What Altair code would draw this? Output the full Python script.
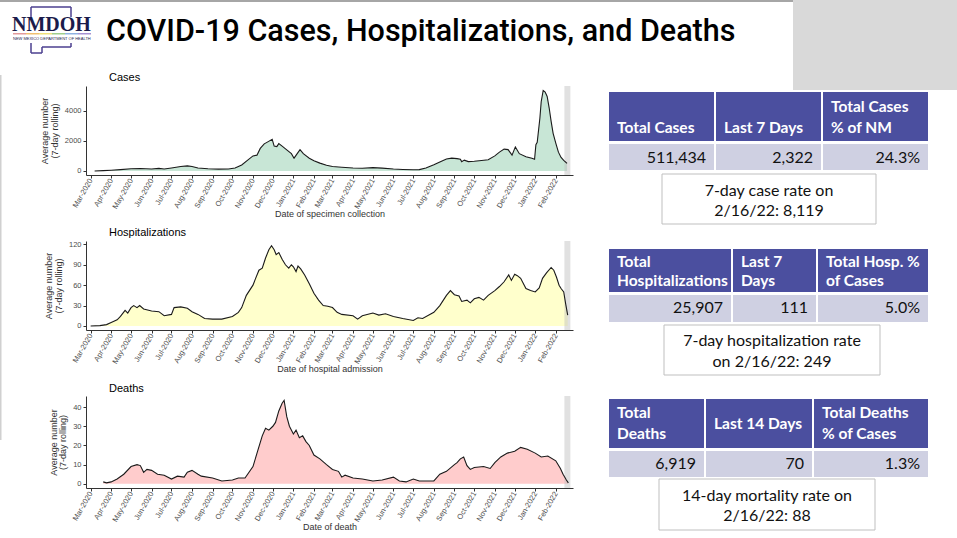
import altair as alt
import pandas as pd

# ---------------- data ----------------
case_dates = ["2020-03-07", "2020-03-20", "2020-04-01", "2020-04-15", "2020-05-01", "2020-05-15", "2020-06-01",
              "2020-06-12", "2020-06-20", "2020-07-01", "2020-07-15", "2020-07-25", "2020-08-01", "2020-08-10",
              "2020-08-25", "2020-09-10", "2020-09-25", "2020-10-05", "2020-10-15", "2020-10-25", "2020-11-01",
              "2020-11-07", "2020-11-12", "2020-11-18", "2020-11-24", "2020-11-30", "2020-12-03", "2020-12-07",
              "2020-12-10", "2020-12-15", "2020-12-22", "2020-12-29", "2021-01-02", "2021-01-06", "2021-01-11",
              "2021-01-16", "2021-01-25", "2021-02-01", "2021-02-10", "2021-02-20", "2021-03-01", "2021-03-15",
              "2021-04-01", "2021-04-15", "2021-05-01", "2021-05-15", "2021-06-01", "2021-06-15", "2021-07-01",
              "2021-07-10", "2021-07-20", "2021-08-01", "2021-08-10", "2021-08-20", "2021-08-28", "2021-09-05",
              "2021-09-10", "2021-09-12", "2021-09-16", "2021-09-22", "2021-10-01", "2021-10-12", "2021-10-22",
              "2021-11-01", "2021-11-08", "2021-11-15", "2021-11-21", "2021-11-27", "2021-12-02", "2021-12-08",
              "2021-12-18", "2021-12-27", "2021-12-31", "2022-01-02", "2022-01-04", "2022-01-08", "2022-01-10",
              "2022-01-13", "2022-01-16", "2022-01-19", "2022-01-22", "2022-01-25", "2022-01-28", "2022-02-01",
              "2022-02-05", "2022-02-09", "2022-02-13", "2022-02-18"]
case_values = [0, 20, 50, 90, 150, 160, 130,
               170, 130, 200, 300, 340, 300, 200,
               150, 120, 130, 200, 400, 750, 1000,
               1050, 1500, 1800, 1950, 2100, 1650, 1620,
               1820, 1650, 1400, 1150, 850, 1100, 1420,
               1150, 850, 680, 520, 380, 300, 250,
               200, 180, 220, 190, 130, 100, 80,
               90, 200, 420, 600, 800, 850, 820,
               780, 620, 720, 620, 650, 700, 750,
               1000, 1250, 1450, 1420, 1050, 1600, 1150,
               950, 850, 780, 1750, 1900, 3500, 4600,
               5350, 5250, 4950, 4200, 3300, 2500, 1850,
               1250, 900, 700, 500]

hosp_dates = ["2020-03-01", "2020-03-15", "2020-03-25", "2020-04-01", "2020-04-10", "2020-04-15", "2020-04-22",
              "2020-04-26", "2020-05-01", "2020-05-05", "2020-05-10", "2020-05-14", "2020-05-20", "2020-06-01",
              "2020-06-12", "2020-06-20", "2020-07-01", "2020-07-05", "2020-07-15", "2020-07-25", "2020-08-01",
              "2020-08-10", "2020-08-20", "2020-09-01", "2020-09-15", "2020-10-01", "2020-10-10", "2020-10-15",
              "2020-10-22", "2020-11-01", "2020-11-05", "2020-11-10", "2020-11-15", "2020-11-20", "2020-11-25",
              "2020-11-29", "2020-12-03", "2020-12-06", "2020-12-10", "2020-12-15", "2020-12-20", "2020-12-25",
              "2020-12-29", "2021-01-01", "2021-01-05", "2021-01-08", "2021-01-12", "2021-01-18", "2021-01-25",
              "2021-02-01", "2021-02-08", "2021-02-15", "2021-02-22", "2021-03-01", "2021-03-08", "2021-03-15",
              "2021-04-01", "2021-04-08", "2021-04-15", "2021-05-01", "2021-05-10", "2021-05-20", "2021-06-01",
              "2021-06-15", "2021-07-01", "2021-07-08", "2021-07-15", "2021-08-01", "2021-08-10", "2021-08-20",
              "2021-08-26", "2021-09-01", "2021-09-08", "2021-09-12", "2021-09-20", "2021-09-25", "2021-10-01",
              "2021-10-08", "2021-10-15", "2021-10-22", "2021-11-01", "2021-11-08", "2021-11-15", "2021-11-22",
              "2021-11-26", "2021-12-01", "2021-12-05", "2021-12-10", "2021-12-18", "2021-12-25", "2022-01-01",
              "2022-01-07", "2022-01-12", "2022-01-18", "2022-01-25", "2022-01-29", "2022-02-02", "2022-02-06",
              "2022-02-09", "2022-02-13", "2022-02-16", "2022-02-19"]
hosp_values = [0, 0.5, 2, 5, 9, 14, 23,
               19, 27, 30, 27, 30, 25, 22,
               21, 15, 17, 27, 28, 26, 21,
               17, 11, 10, 10, 14, 20, 27,
               45, 60, 70, 82, 85, 100, 112,
               118, 112, 105, 108, 98, 90, 85,
               90, 87, 80, 88, 84, 75, 62,
               48, 38, 30, 29, 27, 20, 17,
               15, 10, 15, 19, 16, 18, 14,
               11, 8, 12, 11, 20, 30, 45,
               52, 46, 44, 36, 38, 34, 40,
               42, 38, 45, 52, 58, 65, 75,
               67, 76, 74, 70, 55, 52, 50,
               56, 70, 78, 86, 82, 72, 60,
               55, 50, 32, 16]

death_dates = ["2020-03-20", "2020-03-25", "2020-04-01", "2020-04-10", "2020-04-20", "2020-05-01", "2020-05-10",
               "2020-05-15", "2020-05-20", "2020-05-25", "2020-06-01", "2020-06-10", "2020-06-20", "2020-07-01",
               "2020-07-10", "2020-07-20", "2020-07-25", "2020-08-01", "2020-08-10", "2020-08-15", "2020-09-01",
               "2020-09-15", "2020-10-01", "2020-10-10", "2020-10-20", "2020-11-01", "2020-11-08", "2020-11-15",
               "2020-11-20", "2020-11-25", "2020-12-01", "2020-12-05", "2020-12-10", "2020-12-15", "2020-12-18",
               "2020-12-22", "2020-12-26", "2021-01-01", "2021-01-05", "2021-01-10", "2021-01-15", "2021-01-20",
               "2021-01-25", "2021-02-01", "2021-02-10", "2021-02-20", "2021-03-01", "2021-03-10", "2021-03-15",
               "2021-03-20", "2021-04-01", "2021-04-15", "2021-05-01", "2021-05-15", "2021-06-01", "2021-06-10",
               "2021-06-20", "2021-07-01", "2021-07-10", "2021-08-01", "2021-08-10", "2021-08-20", "2021-09-01",
               "2021-09-05", "2021-09-10", "2021-09-15", "2021-09-20", "2021-09-25", "2021-10-01", "2021-10-15",
               "2021-10-25", "2021-11-01", "2021-11-10", "2021-11-20", "2021-12-01", "2021-12-10", "2021-12-20",
               "2022-01-01", "2022-01-10", "2022-01-20", "2022-02-01", "2022-02-08", "2022-02-12", "2022-02-17",
               "2022-02-20"]
death_values = [1, 0.5, 1, 2.5, 5, 9, 10,
                9.5, 6, 7.5, 7, 5, 4.5, 2.5,
                4, 3.5, 6, 7, 5, 4, 3,
                1.5, 2, 3, 3, 9, 17, 25,
                29, 28, 30, 32, 38, 42, 43.5,
                35, 30, 26, 28, 24, 25, 22,
                20, 15, 13, 10, 7.5, 6.5, 3.5,
                4.5, 3, 2.5, 1.5, 2, 3.5, 1.5,
                1, 2.5, 1.5, 1.5, 5, 6.5, 10,
                11, 13, 14, 9.5, 7.5, 8.5, 9,
                8, 11, 14, 16, 17, 19, 18,
                16, 14, 14.5, 12, 8, 5, 2,
                0.5]

panel_titles = ["Cases", "Hospitalizations", "Deaths"]
x_titles = ["Date of specimen collection", "Date of hospital admission", "Date of death"]
y_title = ["Average number", "(7-day rolling)"]
y_ticks = [[0, 2000, 4000], [0, 30, 60, 90, 120], [0, 10, 20, 30, 40]]
incomplete_start = "2022-02-14"
incomplete_end = "2022-02-23"

slide_title = "COVID-19 Cases, Hospitalizations, and Deaths"
logo_text = "NMDOH"
logo_sub = "NEW MEXICO DEPARTMENT OF HEALTH"

table_headers = [
    [["Total Cases"], ["Last 7 Days"], ["Total Cases", "% of NM"]],
    [["Total", "Hospitalizations"], ["Last 7", "Days"], ["Total Hosp. %", "of Cases"]],
    [["Total", "Deaths"], ["Last 14 Days"], ["Total Deaths", "% of Cases"]],
]
table_values = [["511,434", "2,322", "24.3%"],
                ["25,907", "111", "5.0%"],
                ["6,919", "70", "1.3%"]]
table_notes = [["7-day case rate on", "2/16/22: 8,119"],
               ["7-day hospitalization rate", "on 2/16/22: 249"],
               ["14-day mortality rate on", "2/16/22: 88"]]

# ---------------- layout / style ----------------
PX0, PX1 = 86, 573
ROWS = [(86, 89), (241, 89), (396, 92)]
GAP = 66
TITLE_BASE = [81, 236, 392]
Y_DOMAINS = [(-269, 5649), (-5.95, 124.95), (-2.18, 45.78)]
FILLS = ["#c8e6d6", "#ffffcc", "#ffcccc"]
HEAD_FILL = "#4b4f9f"
VAL_FILL = "#cfd0e2"
TABLE_FONT = "Lato"
AX_FONT = "Liberation Sans"

TABLE_LAYOUT = [
    dict(cols=[609, 715, 822, 928], head=(92, 141), val=(144, 170), box=(662, 876, 174, 224),
         head_base=[[133], [133], [112, 133]], val_base=163, note_base=[196, 216]),
    dict(cols=[609, 732, 817, 928], head=(249, 292), val=(295, 322), box=(664, 880, 325, 375),
         head_base=[[267, 286], [267, 286], [267, 286]], val_base=313, note_base=[346, 367]),
    dict(cols=[609, 705, 813, 928], head=(399, 448), val=(451, 477), box=(659, 875, 479, 530),
         head_base=[[418, 439], [429], [418, 439]], val_base=469, note_base=[501, 521]),
]


def px_scales(row):
    top, h = ROWS[row]
    sx = alt.Scale(domain=[PX0, PX1], nice=False, zero=False)
    sy = alt.Scale(domain=[top, top + h], nice=False, zero=False, reverse=True)
    return sx, sy


def rect_layer(df, row, **mark):
    sx, sy = px_scales(row)
    return alt.Chart(df).mark_rect(**mark).encode(
        x=alt.X("x:Q", scale=sx, axis=None), x2="x2:Q",
        y=alt.Y("y:Q", scale=sy, axis=None), y2="y2:Q",
        color=alt.Color("fill:N", scale=None),
    )


def text_layer(df, row, **mark):
    sx, sy = px_scales(row)
    return alt.Chart(df).mark_text(**mark).encode(
        x=alt.X("x:Q", scale=sx, axis=None),
        y=alt.Y("y:Q", scale=sy, axis=None),
        text="text:N",
    )


def rule_layer(df, row, **mark):
    sx, sy = px_scales(row)
    return alt.Chart(df).mark_rule(**mark).encode(
        x=alt.X("x:Q", scale=sx, axis=None), x2="x2:Q",
        y=alt.Y("y:Q", scale=sy, axis=None), y2="y2:Q",
    )


def table_layers(i):
    L = TABLE_LAYOUT[i]
    cols = L["cols"]
    cells, heads, vals = [], [], []
    for c in range(3):
        left = cols[c] + (1 if c > 0 else 0)
        right = cols[c + 1] - (1 if c < 2 else 0)
        cells.append(dict(x=left, x2=right, y=L["head"][0], y2=L["head"][1], fill=HEAD_FILL))
        cells.append(dict(x=left, x2=right, y=L["val"][0], y2=L["val"][1], fill=VAL_FILL))
        for line, base in zip(table_headers[i][c], L["head_base"][c]):
            heads.append(dict(x=left + 8, y=base, text=line))
        vals.append(dict(x=right - 8, y=L["val_base"], text=table_values[i][c]))
    bx0, bx1, by0, by1 = L["box"]
    box = pd.DataFrame([dict(x=bx0, x2=bx1, y=by0, y2=by1, fill="#ffffff")])
    notes = pd.DataFrame([dict(x=(bx0 + bx1) / 2, y=b, text=t) for t, b in zip(table_notes[i], L["note_base"])])
    ptitle = pd.DataFrame([dict(x=PX0 + 23, y=TITLE_BASE[i], text=panel_titles[i])])
    return [
        rect_layer(pd.DataFrame(cells), i),
        rect_layer(box, i, stroke="#bfbfbf", strokeWidth=1),
        text_layer(pd.DataFrame(heads), i, font=TABLE_FONT, fontSize=15.5, fontWeight="bold",
                   color="white", align="left", baseline="alphabetic"),
        text_layer(pd.DataFrame(vals), i, font=TABLE_FONT, fontSize=16, color="#111111",
                   align="right", baseline="alphabetic"),
        text_layer(notes, i, font=TABLE_FONT, fontSize=16, color="#111111",
                   align="center", baseline="alphabetic"),
        text_layer(ptitle, i, font=AX_FONT, fontSize=11, color="#000000",
                   align="left", baseline="alphabetic"),
    ]


def header_layers():
    deco = pd.DataFrame([
        dict(x=0, x2=793, y=0, y2=2, fill="#a6a6a6"),
        dict(x=793, x2=957, y=0, y2=90, fill="#d9d9d9"),
        dict(x=0, x2=1.5, y=75, y2=440, fill="#d0d0d0"),
        dict(x=13, x2=26, y=33, y2=34.5, fill="#e39a9a"),
        dict(x=26, x2=39, y=33, y2=34.5, fill="#f0c070"),
        dict(x=39, x2=52, y=33, y2=34.5, fill="#efe07a"),
        dict(x=52, x2=65, y=33, y2=34.5, fill="#9fcf8c"),
        dict(x=65, x2=78, y=33, y2=34.5, fill="#8fb2e2"),
        dict(x=78, x2=91, y=33, y2=34.5, fill="#a792d2"),
    ])
    outline = pd.DataFrame([
        dict(x=31, y=7, x2=71, y2=7), dict(x=31, y=7, x2=31, y2=17), dict(x=71, y=7, x2=71, y2=17),
        dict(x=31, y=43, x2=31, y2=53), dict(x=31, y=53, x2=42, y2=53), dict(x=42, y=53, x2=42, y2=47),
        dict(x=42, y=47, x2=71, y2=47), dict(x=71, y=47, x2=71, y2=43),
    ])
    return [
        rect_layer(deco, 0),
        rule_layer(outline, 0, color="#4b3f8f", strokeWidth=1.5),
        text_layer(pd.DataFrame([dict(x=12, y=31, text=logo_text)]), 0, font="Liberation Serif",
                   fontSize=20, fontWeight="bold", color="#1b1b4b", align="left", baseline="alphabetic"),
        text_layer(pd.DataFrame([dict(x=13, y=40, text=logo_sub)]), 0, font=AX_FONT,
                   fontSize=4, color="#1b1b4b", align="left", baseline="alphabetic"),
        text_layer(pd.DataFrame([dict(x=106, y=41, text=slide_title)]), 0,
                   font="Roboto", fontSize=30.5, fontWeight=500, color="#000000",
                   align="left", baseline="alphabetic"),
    ]


def area_panel(i, dates, values):
    df = pd.DataFrame({"date": pd.to_datetime(dates), "value": values})
    band = pd.DataFrame({"start": [pd.Timestamp(incomplete_start)], "end": [pd.Timestamp(incomplete_end)]})
    xs = alt.Scale(domain=[alt.DateTime(year=2020, month=2, date=23), alt.DateTime(year=2022, month=2, date=27)],
                   nice=False)
    ys = alt.Scale(domain=list(Y_DOMAINS[i]), nice=False, zero=False)
    xaxis = alt.Axis(format="%b-%Y", tickCount={"interval": "month", "step": 1}, labelAngle=-60,
                     labelAlign="right", labelBaseline="middle", labelFontSize=7.5, labelColor="#4d4d4d",
                     labelFont=AX_FONT, labelOverlap=False, labelPadding=1, tickSize=3, tickColor="#333333",
                     domainColor="#333333", grid=False, title=x_titles[i], titleFont=AX_FONT, titleFontSize=9,
                     titleFontWeight="normal", titleColor="#333333", titlePadding=0)
    yaxis = alt.Axis(values=y_ticks[i], format="d", labelFontSize=7.5, labelColor="#4d4d4d", labelFont=AX_FONT,
                     tickSize=3, tickColor="#333333", domainColor="#333333", grid=False, labelPadding=2,
                     title=y_title, titleFont=AX_FONT, titleFontSize=9, titleFontWeight="normal",
                     titleColor="#333333", titlePadding=5, titleLineHeight=9.5)
    area = alt.Chart(df).mark_area(color=FILLS[i]).encode(
        x=alt.X("date:T", scale=xs, axis=xaxis),
        y=alt.Y("value:Q", scale=ys, axis=yaxis),
        y2=alt.datum(0),
    )
    bandc = alt.Chart(band).mark_rect(color="#bdbdbd", opacity=0.45).encode(
        x=alt.X("start:T", scale=xs, axis=xaxis), x2="end:T")
    line = alt.Chart(df).mark_line(color="#1a1a1a", strokeWidth=1.1).encode(
        x=alt.X("date:T", scale=xs, axis=xaxis),
        y=alt.Y("value:Q", scale=ys, axis=yaxis),
    )
    return alt.layer(area, bandc, line)


series = [(case_dates, case_values), (hosp_dates, hosp_values), (death_dates, death_values)]
rows = []
for i, (d, v) in enumerate(series):
    overlays = table_layers(i)
    if i == 0:
        overlays = header_layers() + overlays
    top, h = ROWS[i]
    row = alt.layer(area_panel(i, d, v), *overlays).resolve_scale(
        x="independent", y="independent"
    ).properties(width=PX1 - PX0, height=h)
    rows.append(row)

chart = alt.vconcat(*rows, spacing=GAP, bounds="flush").properties(
    padding=0, background="white"
).configure_view(strokeWidth=0)

chart.save("out.html", embed_options={"renderer": "svg", "actions": False})
